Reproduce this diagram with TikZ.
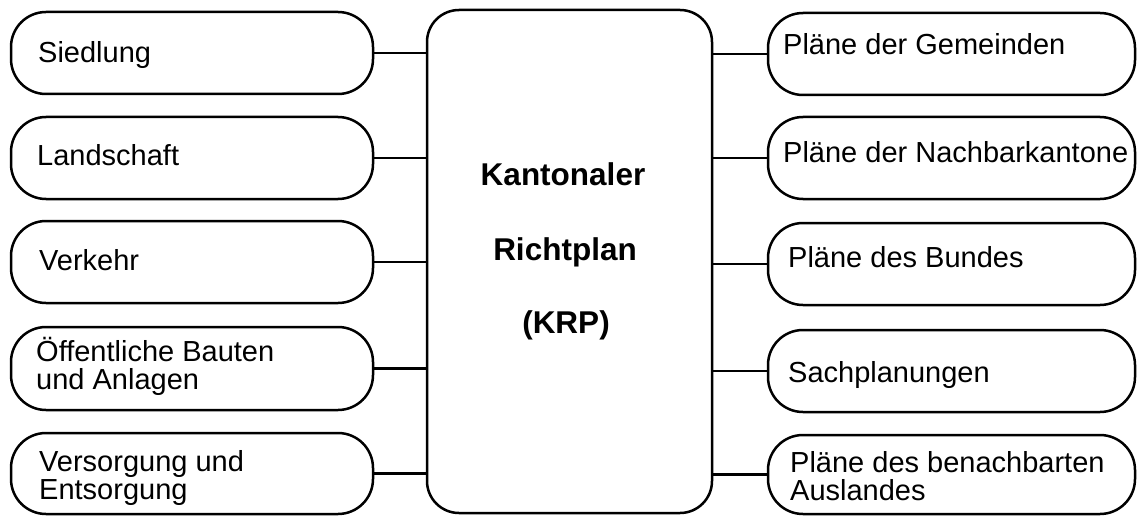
\documentclass[tikz,border=0pt]{standalone}
\usepackage{fontspec}
\setmainfont{Liberation Sans}
\begin{document}
\begin{tikzpicture}[x=1pt,y=-1pt,
  box/.style={draw,line width=2.5pt,rounded corners=35pt,inner sep=0pt},
  bigbox/.style={draw,line width=2.5pt,rounded corners=32pt,inner sep=0pt},
  lbl/.style={anchor=base west,inner sep=0pt,align=left,font=\fontsize{29}{28}\selectfont},
  title/.style={anchor=base,inner sep=0pt,font=\fontsize{31.5}{31}\selectfont\bfseries},
  link/.style={line width=2.5pt}]
\useasboundingbox (0,0) rectangle (1137,516);
% centre box
\node[bigbox,minimum width=285pt,minimum height=503pt] (krp) at (569.5,261.5) {};
\node[title] (t1) at (563,185) {Kantonaler};
\node[title] (t2) at (565,260) {Richtplan};
\node[title] (t3) at (566,333) {(KRP)};
% left boxes
\node[box,minimum width=362pt,minimum height=82pt] (l1) at (192,53) {};
\node[box,minimum width=362pt,minimum height=82pt] (l2) at (192,158) {};
\node[box,minimum width=362pt,minimum height=82pt] (l3) at (192,262) {};
\node[box,minimum width=362pt,minimum height=83pt] (l4) at (192,368.5) {};
\node[box,minimum width=362pt,minimum height=81pt] (l5) at (192,473.5) {};
\node[lbl] (lt1) at (38,63) {Siedlung};
\node[lbl] (lt2) at (37,165) {Landschaft};
\node[lbl] (lt3) at (39,270) {Verkehr};
\node[lbl] (lt4) at (36,389) {Öffentliche Bauten\\und Anlagen};
\node[lbl] (lt5) at (39,499) {Versorgung und\\Entsorgung};
% right boxes
\node[box,minimum width=367pt,minimum height=82pt] (r1) at (951.5,54) {};
\node[box,minimum width=367pt,minimum height=82pt] (r2) at (951.5,158) {};
\node[box,minimum width=367pt,minimum height=82pt] (r3) at (951.5,264) {};
\node[box,minimum width=367pt,minimum height=82pt] (r4) at (951.5,371) {};
\node[box,minimum width=367pt,minimum height=79pt] (r5) at (951.5,474.5) {};
\node[lbl] (rt1) at (783,55) {Pläne der Gemeinden};
\node[lbl] (rt2) at (783,162) {Pläne der Nachbarkantone};
\node[lbl] (rt3) at (788,267) {Pläne des Bundes};
\node[lbl] (rt4) at (788,382) {Sachplanungen};
\node[lbl] (rt5) at (790,500) {Pläne des benachbarten\\Auslandes};
% connectors
\foreach \n in {l1,l2,l3,l4,l5} \draw[link] (\n.east) -- (\n.east -| krp.west);
\foreach \n in {r1,r2,r3,r4,r5} \draw[link] (\n.west -| krp.east) -- (\n.west);
\end{tikzpicture}
\end{document}
